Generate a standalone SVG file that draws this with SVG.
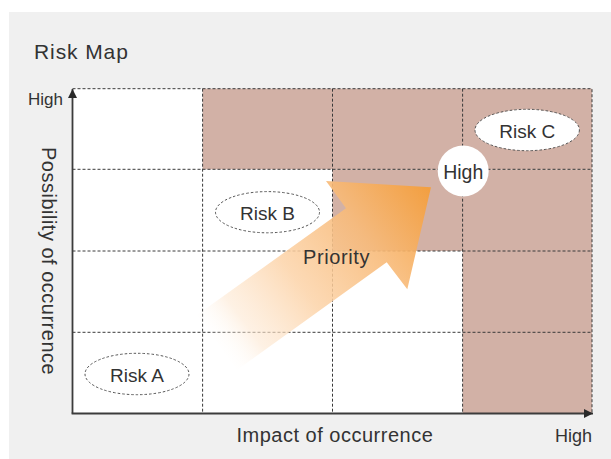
<svg xmlns="http://www.w3.org/2000/svg" width="611" height="459" viewBox="0 0 611 459">
  <style>
    text { font-family: "Liberation Sans", Arial, sans-serif; fill: #333; }
    .grid { stroke: #3a3a3a; stroke-width: 1; stroke-dasharray: 3 2; fill: none; }
    .hot { fill: #d2b1a6; }
    .oval { fill: #fff; stroke: #555; stroke-width: 1; stroke-dasharray: 2.5 2; }
    .axis { stroke: #3c3c3c; stroke-width: 1.8; fill: none; }
    .lbl { font-size: 19px; text-anchor: middle; }
  </style>
  <defs>
    <marker id="ah" viewBox="0 0 10 10" refX="10" refY="5" markerWidth="10" markerHeight="9" markerUnits="userSpaceOnUse" orient="auto">
      <path d="M0,0 L10,5 L0,10 Z" fill="#2a2a2a"/>
    </marker>
    <linearGradient id="pg" gradientUnits="userSpaceOnUse" x1="215" y1="350" x2="430" y2="190">
      <stop offset="0" stop-color="#ffffff" stop-opacity="0"/>
      <stop offset="0.15" stop-color="#fde8d2" stop-opacity="0.6"/>
      <stop offset="0.4" stop-color="#fcd3a8" stop-opacity="0.85"/>
      <stop offset="0.7" stop-color="#f8bb7a" stop-opacity="0.9"/>
      <stop offset="1" stop-color="#f59e3a" stop-opacity="0.93"/>
    </linearGradient>
  </defs>

  <rect x="9" y="12" width="602" height="447" fill="#f0f0f0"/>
  <text x="34" y="58.5" font-size="21" letter-spacing="0.9">Risk Map</text>

  <g id="cells">
    <rect x="72.5" y="88.7" width="519.5" height="324.3" fill="#fff"/>
    <rect class="hot" x="202.6" y="88.7" width="389.4" height="80.6"/>
    <rect class="hot" x="332.5" y="169.3" width="259.5" height="81.7"/>
    <rect class="hot" x="462.6" y="251" width="129.4" height="162"/>
  </g>

  <g id="gridlines">
    <path class="grid" d="M72.5,88.7 H592 V413 M202.6,88.7 V413 M332.5,88.7 V413 M462.6,88.7 V413 M72.5,169.3 H592 M72.5,251 H592 M72.5,332.3 H592"/>
  </g>

  <g id="connectors">
    <path id="priority-arrow" d="M197,315 L346,208.3 L326,181 L431,187.3 L407.3,289.3 L386.7,262.3 L237,370 Z" fill="url(#pg)"/>
    <line class="axis" x1="72.5" y1="413.5" x2="72.5" y2="89" marker-end="url(#ah)"/>
    <line class="axis" x1="71.6" y1="413.5" x2="593" y2="413.5" marker-end="url(#ah)"/>
  </g>

  <text x="336.5" y="264" font-size="20" letter-spacing="0.6" text-anchor="middle" fill="#222">Priority</text>

  <g id="risk-a">
    <ellipse class="oval" cx="137" cy="374" rx="52" ry="20.7"/>
    <text class="lbl" x="137" y="381.5">Risk A</text>
  </g>
  <g id="risk-b">
    <ellipse class="oval" cx="267.5" cy="212.2" rx="52" ry="20.6"/>
    <text class="lbl" x="267.5" y="219.5">Risk B</text>
  </g>
  <g id="risk-c">
    <ellipse class="oval" cx="527.2" cy="130" rx="52.2" ry="20.7"/>
    <text class="lbl" x="527.2" y="137.5">Risk C</text>
  </g>
  <g id="high-point">
    <circle cx="463.2" cy="171" r="25.5" fill="#fff"/>
    <text x="463.2" y="179" font-size="19.5" text-anchor="middle">High</text>
  </g>

  <g id="axis-labels">
    <text x="63" y="104.5" font-size="17" text-anchor="end">High</text>
    <text x="592" y="441.5" font-size="18" text-anchor="end" fill="#555">High</text>
    <text x="236.5" y="442" font-size="20" letter-spacing="0.5">Impact of occurrence</text>
    <text transform="translate(42,147) rotate(90)" font-size="20" letter-spacing="0.5">Possibility of occurrence</text>
  </g>
</svg>
